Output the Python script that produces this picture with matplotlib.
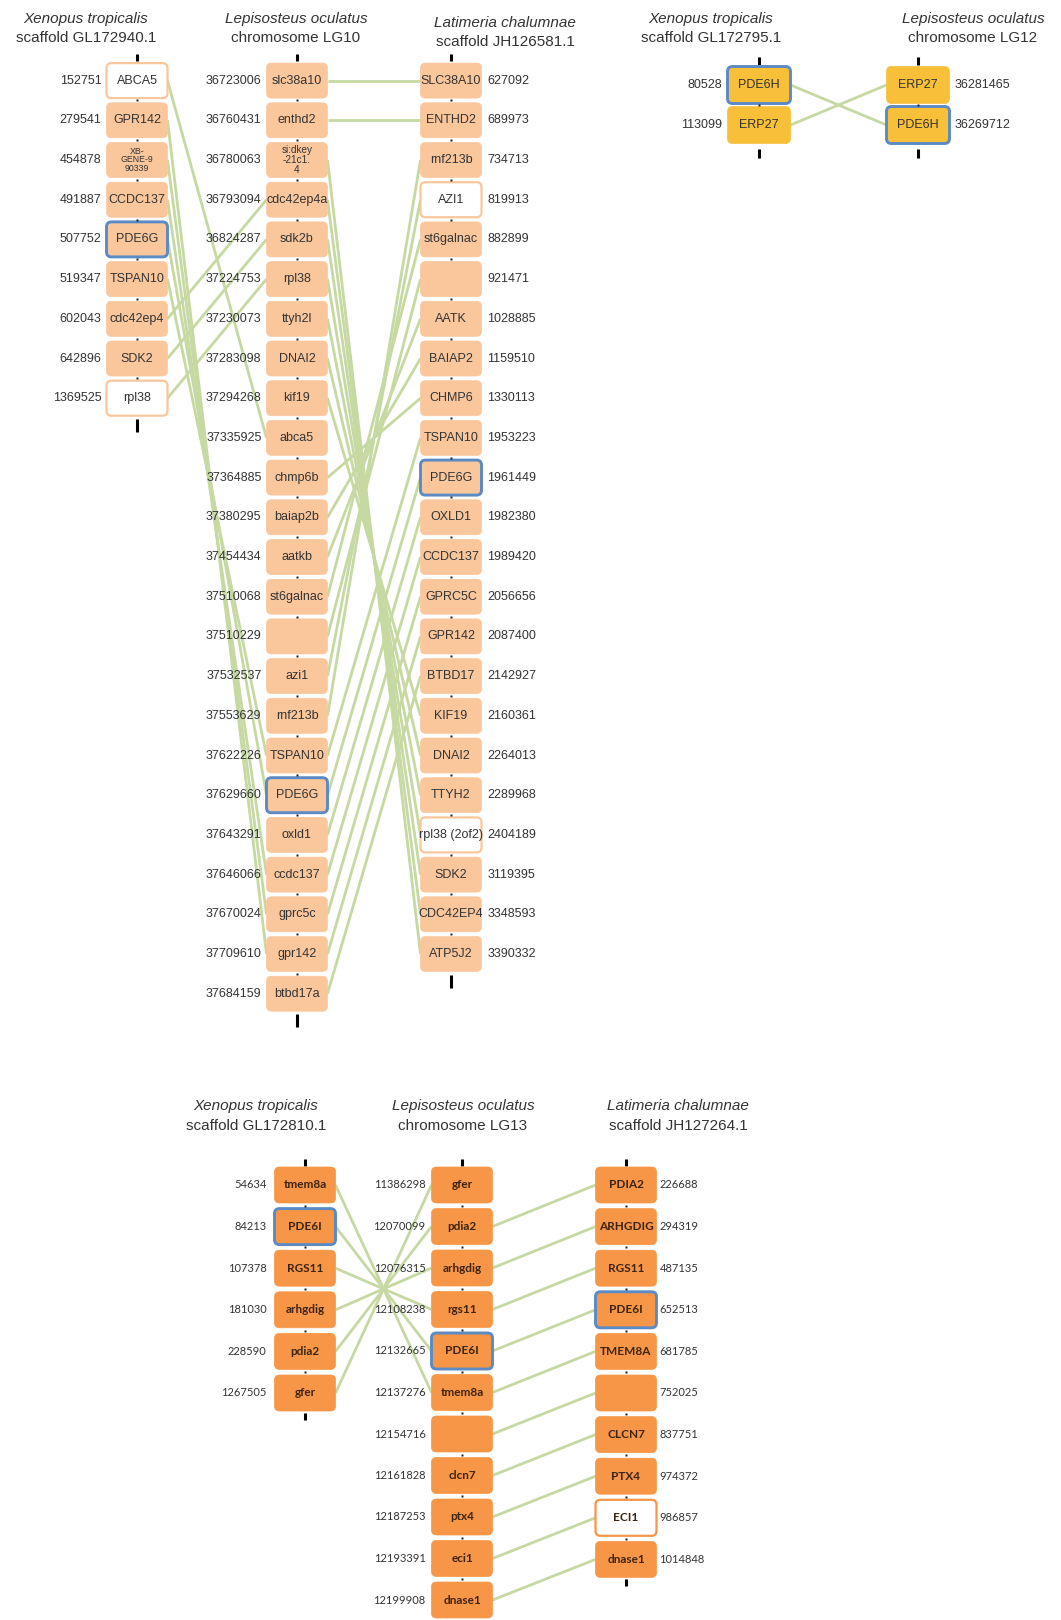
"""
Synteny of the PDE6G / PDE6H / PDE6I regions in Xenopus, spotted gar and coelacanth.
Output: out.png (1061 x 1620 px)
"""
import matplotlib
matplotlib.use("Agg")
import matplotlib.pyplot as plt
from matplotlib.patches import FancyBboxPatch

# ── Data ──────────────────────────────────────────────────────────────────────
# PDE6G block
G_XEN_GENES = ["ABCA5", "GPR142", "XB-\nGENE-9\n90339", "CCDC137", "PDE6G",
               "TSPAN10", "cdc42ep4", "SDK2", "rpl38"]
G_XEN_POS = ["152751", "279541", "454878", "491887", "507752", "519347",
             "602043", "642896", "1369525"]
G_GAR_GENES = ["slc38a10", "enthd2", "si:dkey\n-21c1.\n4", "cdc42ep4a", "sdk2b",
               "rpl38", "ttyh2l", "DNAI2", "kif19", "abca5", "chmp6b", "baiap2b",
               "aatkb", "st6galnac", "", "azi1", "rnf213b", "TSPAN10", "PDE6G",
               "oxld1", "ccdc137", "gprc5c", "gpr142", "btbd17a"]
G_GAR_POS = ["36723006", "36760431", "36780063", "36793094", "36824287",
             "37224753", "37230073", "37283098", "37294268", "37335925",
             "37364885", "37380295", "37454434", "37510068", "37510229",
             "37532537", "37553629", "37622226", "37629660", "37643291",
             "37646066", "37670024", "37709610", "37684159"]
G_LAT_GENES = ["SLC38A10", "ENTHD2", "rnf213b", "AZI1", "st6galnac", "", "AATK",
               "BAIAP2", "CHMP6", "TSPAN10", "PDE6G", "OXLD1", "CCDC137",
               "GPRC5C", "GPR142", "BTBD17", "KIF19", "DNAI2", "TTYH2",
               "rpl38 (2of2)", "SDK2", "CDC42EP4", "ATP5J2"]
G_LAT_POS = ["627092", "689973", "734713", "819913", "882899", "921471",
             "1028885", "1159510", "1330113", "1953223", "1961449", "1982380",
             "1989420", "2056656", "2087400", "2142927", "2160361", "2264013",
             "2289968", "2404189", "3119395", "3348593", "3390332"]
G_XEN_GAR_LINKS = [(0, 9), (1, 22), (2, 21), (3, 20), (4, 18), (5, 17),
                   (6, 3), (7, 4), (8, 5)]
G_GAR_LAT_LINKS = [(0, 0), (1, 1), (2, 22), (3, 21), (4, 20), (5, 19), (6, 18),
                   (7, 17), (8, 16), (10, 8), (11, 7), (12, 6), (13, 4), (14, 5),
                   (15, 3), (16, 2), (17, 9), (18, 10), (19, 11), (20, 12),
                   (21, 13), (22, 14), (23, 15)]
G_XEN_WHITE = ["ABCA5", "rpl38"]
G_LAT_WHITE = ["AZI1", "rpl38 (2of2)"]

# PDE6H block
H_XEN_GENES = ["PDE6H", "ERP27"]
H_XEN_POS = ["80528", "113099"]
H_GAR_GENES = ["ERP27", "PDE6H"]
H_GAR_POS = ["36281465", "36269712"]
H_LINKS = [(0, 1), (1, 0)]

# PDE6I block
I_XEN_GENES = ["tmem8a", "PDE6I", "RGS11", "arhgdig", "pdia2", "gfer"]
I_XEN_POS = ["54634", "84213", "107378", "181030", "228590", "1267505"]
I_GAR_GENES = ["gfer", "pdia2", "arhgdig", "rgs11", "PDE6I", "tmem8a", "",
               "clcn7", "ptx4", "eci1", "dnase1"]
I_GAR_POS = ["11386298", "12070099", "12076315", "12108238", "12132665",
             "12137276", "12154716", "12161828", "12187253", "12193391",
             "12199908"]
I_LAT_GENES = ["PDIA2", "ARHGDIG", "RGS11", "PDE6I", "TMEM8A", "", "CLCN7",
               "PTX4", "ECI1", "dnase1"]
I_LAT_POS = ["226688", "294319", "487135", "652513", "681785", "752025",
             "837751", "974372", "986857", "1014848"]
I_XEN_GAR_LINKS = [(0, 5), (1, 4), (2, 3), (3, 2), (4, 1), (5, 0)]
I_GAR_LAT_LINKS = [(1, 0), (2, 1), (3, 2), (4, 3), (5, 4), (6, 5), (7, 6),
                   (8, 7), (9, 8), (10, 9)]
I_LAT_WHITE = ["ECI1"]

PDE_GENES = ["PDE6G", "PDE6H", "PDE6I"]

# ── Style ─────────────────────────────────────────────────────────────────────
PEACH  = "#FAC79D"
YELLOW = "#F8BF38"
ORANGE = "#F79646"
BLUE   = "#5B8AC4"
LINK   = "#C6D9A2"
TXT    = "#333333"
W, H = 1061, 1620

fig = plt.figure(figsize=(W / 100, H / 100), dpi=100)
fig.patch.set_facecolor("white")
ax = fig.add_axes([0, 0, 1, 1])
ax.set_xlim(0, W)
ax.set_ylim(H, 0)
ax.axis("off")


def column(xc, y0, dy, n, bw, bh):
    """Return box geometry for one chromosome column."""
    ys = [y0 + i * dy for i in range(n)]
    return dict(xc=xc, ys=ys, bw=bw, bh=bh)


def draw_column(col, genes, pos, face, white=(), num_side="left",
                num_gap=5, font="Liberation Sans", gsize=9, nsize=9,
                gcolor=TXT, gweight="normal", white_edge=PEACH,
                top_tick=(9, 2), bot_tick=(3, 16)):
    xc, ys, bw, bh = col["xc"], col["ys"], col["bw"], col["bh"]
    # chromosome ticks above / below the block
    ax.plot([xc, xc], [ys[0] - bh / 2 - top_tick[0], ys[0] - bh / 2 - top_tick[1]],
            color="black", lw=2.2, solid_capstyle="butt", zorder=1)
    ax.plot([xc, xc], [ys[-1] + bh / 2 + bot_tick[0], ys[-1] + bh / 2 + bot_tick[1]],
            color="black", lw=2.2, solid_capstyle="butt", zorder=1)
    # small dots in the gaps between boxes
    for a, b in zip(ys[:-1], ys[1:]):
        ax.plot(xc, (a + b) / 2, marker="s", ms=1.6, color="#222222",
                mec="none", zorder=4)
    for g, p, y in zip(genes, pos, ys):
        is_white = g in white
        fc = "white" if is_white else face
        if g in PDE_GENES:
            ec, lw = BLUE, 2.1
        elif is_white:
            ec, lw = white_edge, 1.6
        else:
            ec, lw = face, 0.5
        box = FancyBboxPatch((xc - bw / 2, y - bh / 2), bw, bh,
                             boxstyle="round,pad=0,rounding_size=5",
                             fc=fc, ec=ec, lw=lw, zorder=3)
        ax.add_patch(box)
        fs = gsize
        if "\n" in g:
            fs = gsize * (0.7 if g.startswith("XB") else 0.8)
        ax.text(xc, y, g, ha="center", va="center", fontsize=fs, color=gcolor,
                family=font, weight=gweight, linespacing=0.95, zorder=5)
        if num_side == "left":
            ax.text(xc - bw / 2 - num_gap, y, p, ha="right", va="center",
                    fontsize=nsize, color=TXT, family=font, zorder=5)
        else:
            ax.text(xc + bw / 2 + num_gap, y, p, ha="left", va="center",
                    fontsize=nsize, color=TXT, family=font, zorder=5)


def draw_links(left, right, links):
    for i, j in links:
        x1 = left["xc"] + left["bw"] / 2
        x2 = right["xc"] - right["bw"] / 2
        ax.plot([x1, x2], [left["ys"][i], right["ys"][j]], color=LINK,
                lw=2.0, solid_capstyle="butt", zorder=2)


def title(x, y, species, region, font="Liberation Sans", size=11):
    ax.text(x, y, species, ha="center", va="center", fontsize=size,
            style="italic", color=TXT, family=font)
    ax.text(x, y + 19.5, region, ha="center", va="center", fontsize=size,
            color=TXT, family=font)


# ─── PDE6G block ──────────────────────────────────────────────────────────────
gx = column(137, 80.6, 39.7, len(G_XEN_GENES), 61, 35)
gg = column(297, 80.6, 39.7, len(G_GAR_GENES), 61, 35)
gl = column(451, 80.6, 39.7, len(G_LAT_GENES), 61, 35)
draw_links(gx, gg, G_XEN_GAR_LINKS)
draw_links(gg, gl, G_GAR_LAT_LINKS)
draw_column(gx, G_XEN_GENES, G_XEN_POS, PEACH, white=G_XEN_WHITE, num_gap=5)
draw_column(gg, G_GAR_GENES, G_GAR_POS, PEACH, num_gap=5)
draw_column(gl, G_LAT_GENES, G_LAT_POS, PEACH, white=G_LAT_WHITE,
            num_side="right", num_gap=6)
title(86, 19, "Xenopus tropicalis", "scaffold GL172940.1")
title(296, 19, "Lepisosteus oculatus", "chromosome LG10")
title(505, 23, "Latimeria chalumnae", "scaffold JH126581.1")

# ─── PDE6H block ──────────────────────────────────────────────────────────────
hx = column(759, 85, 40, len(H_XEN_GENES), 63, 37)
hg = column(918, 85, 40, len(H_GAR_GENES), 63, 37)
draw_links(hx, hg, H_LINKS)
draw_column(hx, H_XEN_GENES, H_XEN_POS, YELLOW, num_gap=5,
            top_tick=(10, 2), bot_tick=(5, 14))
draw_column(hg, H_GAR_GENES, H_GAR_POS, YELLOW, num_side="right", num_gap=5,
            top_tick=(10, 2), bot_tick=(5, 14))
title(711, 19, "Xenopus tropicalis", "scaffold GL172795.1")
title(973, 19, "Lepisosteus oculatus", "chromosome LG12")

# ─── PDE6I block ──────────────────────────────────────────────────────────────
ix = column(305, 1185, 41.6, len(I_XEN_GENES), 61, 36)
ig = column(462, 1185, 41.5, len(I_GAR_GENES), 61, 36)
il = column(626, 1185, 41.6, len(I_LAT_GENES), 61, 36)
draw_links(ix, ig, I_XEN_GAR_LINKS)
draw_links(ig, il, I_GAR_LAT_LINKS)
kw = dict(font="Lato", gsize=8.5, nsize=8, gcolor="#3d2410", gweight="bold",
          white_edge=ORANGE, top_tick=(8, 1), bot_tick=(2, 9))
draw_column(ix, I_XEN_GENES, I_XEN_POS, ORANGE, num_gap=8, **kw)
draw_column(ig, I_GAR_GENES, I_GAR_POS, ORANGE, num_gap=6, **kw)
draw_column(il, I_LAT_GENES, I_LAT_POS, ORANGE, white=I_LAT_WHITE,
            num_side="right", num_gap=3, **kw)
title(256, 1106, "Xenopus tropicalis", "scaffold GL172810.1")
title(463, 1106, "Lepisosteus oculatus", "chromosome LG13")
title(678, 1106, "Latimeria chalumnae", "scaffold JH127264.1")

fig.savefig("out.png", dpi=100, facecolor="white")
plt.close(fig)
print("Saved: out.png")
